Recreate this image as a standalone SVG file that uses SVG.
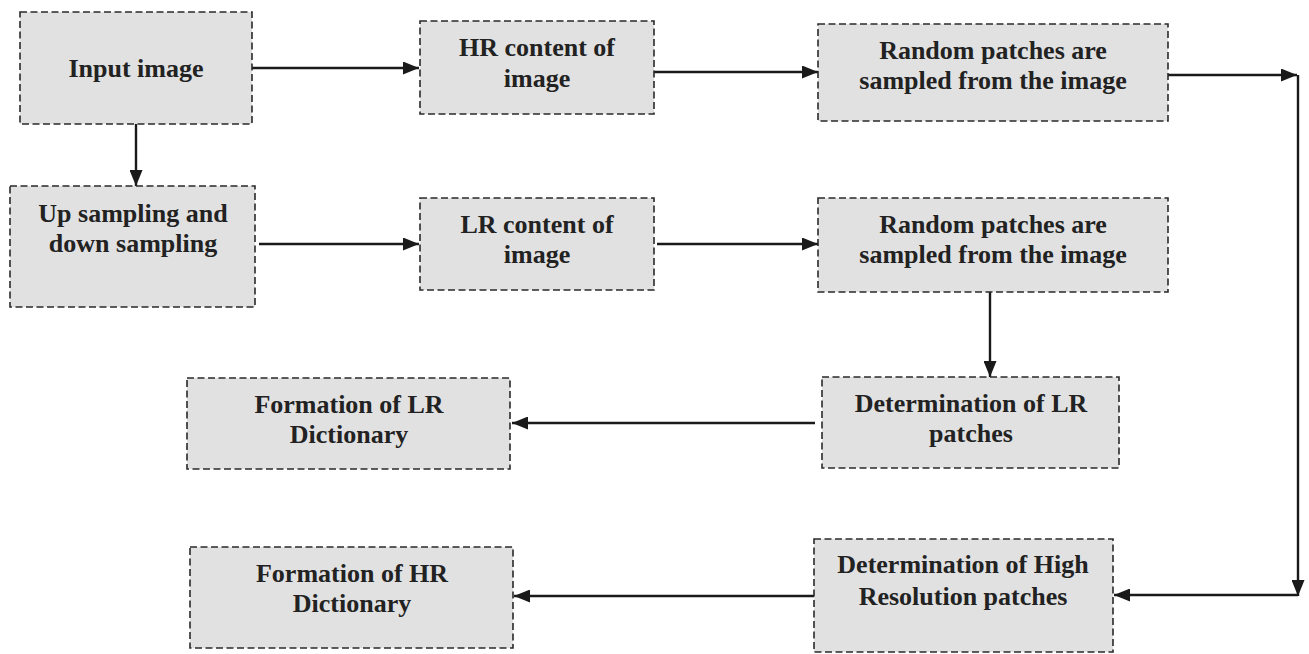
<svg xmlns="http://www.w3.org/2000/svg" width="1309" height="654" viewBox="0 0 1309 654">
<style>
.box{fill:#e1e1e1;stroke:#2a2a2a;stroke-width:1.6;stroke-dasharray:7 3.5}
text{font-family:'Liberation Serif','DejaVu Serif',serif;font-weight:bold;font-size:26px;fill:#222;text-anchor:middle}
.c{fill:none;stroke:#1a1a1a;stroke-width:2.4}
</style>
<defs>
<marker id="ah" viewBox="0 0 16 13" refX="16" refY="6.5" markerWidth="16" markerHeight="13" markerUnits="userSpaceOnUse" orient="auto">
<path d="M0,0 L16,6.5 L0,13 Z" fill="#1a1a1a"/>
</marker>
</defs>
<rect width="1309" height="654" fill="#fff"/>
<g id="connectors">
<line class="c" x1="252" y1="68" x2="419" y2="68" marker-end="url(#ah)"/>
<line class="c" x1="136" y1="124" x2="136" y2="186" marker-end="url(#ah)"/>
<line class="c" x1="259" y1="244" x2="419" y2="244" marker-end="url(#ah)"/>
<line class="c" x1="654" y1="72" x2="818" y2="72" marker-end="url(#ah)"/>
<line class="c" x1="657" y1="244" x2="818" y2="244" marker-end="url(#ah)"/>
<line class="c" x1="1168" y1="75" x2="1297" y2="75" marker-end="url(#ah)"/>
<line class="c" x1="1298" y1="75" x2="1298" y2="596" marker-end="url(#ah)"/>
<line class="c" x1="1298" y1="595" x2="1114" y2="595" marker-end="url(#ah)"/>
<line class="c" x1="990" y1="292" x2="990" y2="377" marker-end="url(#ah)"/>
<line class="c" x1="815" y1="423" x2="512" y2="423" marker-end="url(#ah)"/>
<line class="c" x1="814" y1="596" x2="514" y2="596" marker-end="url(#ah)"/>
</g>
<g id="input">
<rect class="box" x="20" y="12" width="232" height="112"/>
<text x="136" y="77">Input image</text>
</g>
<g id="updown">
<rect class="box" x="10" y="186" width="245" height="121"/>
<text x="133" y="222">Up sampling and</text>
<text x="133" y="252">down sampling</text>
</g>
<g id="hr">
<rect class="box" x="420" y="21" width="234" height="93"/>
<text x="537" y="56">HR content of</text>
<text x="537" y="87">image</text>
</g>
<g id="lr">
<rect class="box" x="420" y="198" width="234" height="92"/>
<text x="537" y="233">LR content of</text>
<text x="537" y="263">image</text>
</g>
<g id="rand1">
<rect class="box" x="818" y="24" width="350" height="97"/>
<text x="993" y="59">Random patches are</text>
<text x="993" y="89">sampled from the image</text>
</g>
<g id="rand2">
<rect class="box" x="818" y="198" width="350" height="94"/>
<text x="993" y="233">Random patches are</text>
<text x="993" y="263">sampled from the image</text>
</g>
<g id="detlr">
<rect class="box" x="822" y="377" width="297" height="91"/>
<text x="971" y="412">Determination of LR</text>
<text x="971" y="442">patches</text>
</g>
<g id="dethr">
<rect class="box" x="814" y="539" width="299" height="113"/>
<text x="963" y="573">Determination of High</text>
<text x="963" y="605">Resolution patches</text>
</g>
<g id="formlr">
<rect class="box" x="187" y="378" width="323" height="91"/>
<text x="349" y="413">Formation of LR</text>
<text x="349" y="443">Dictionary</text>
</g>
<g id="formhr">
<rect class="box" x="190" y="547" width="323" height="101"/>
<text x="352" y="582">Formation of HR</text>
<text x="352" y="612">Dictionary</text>
</g>
</svg>
